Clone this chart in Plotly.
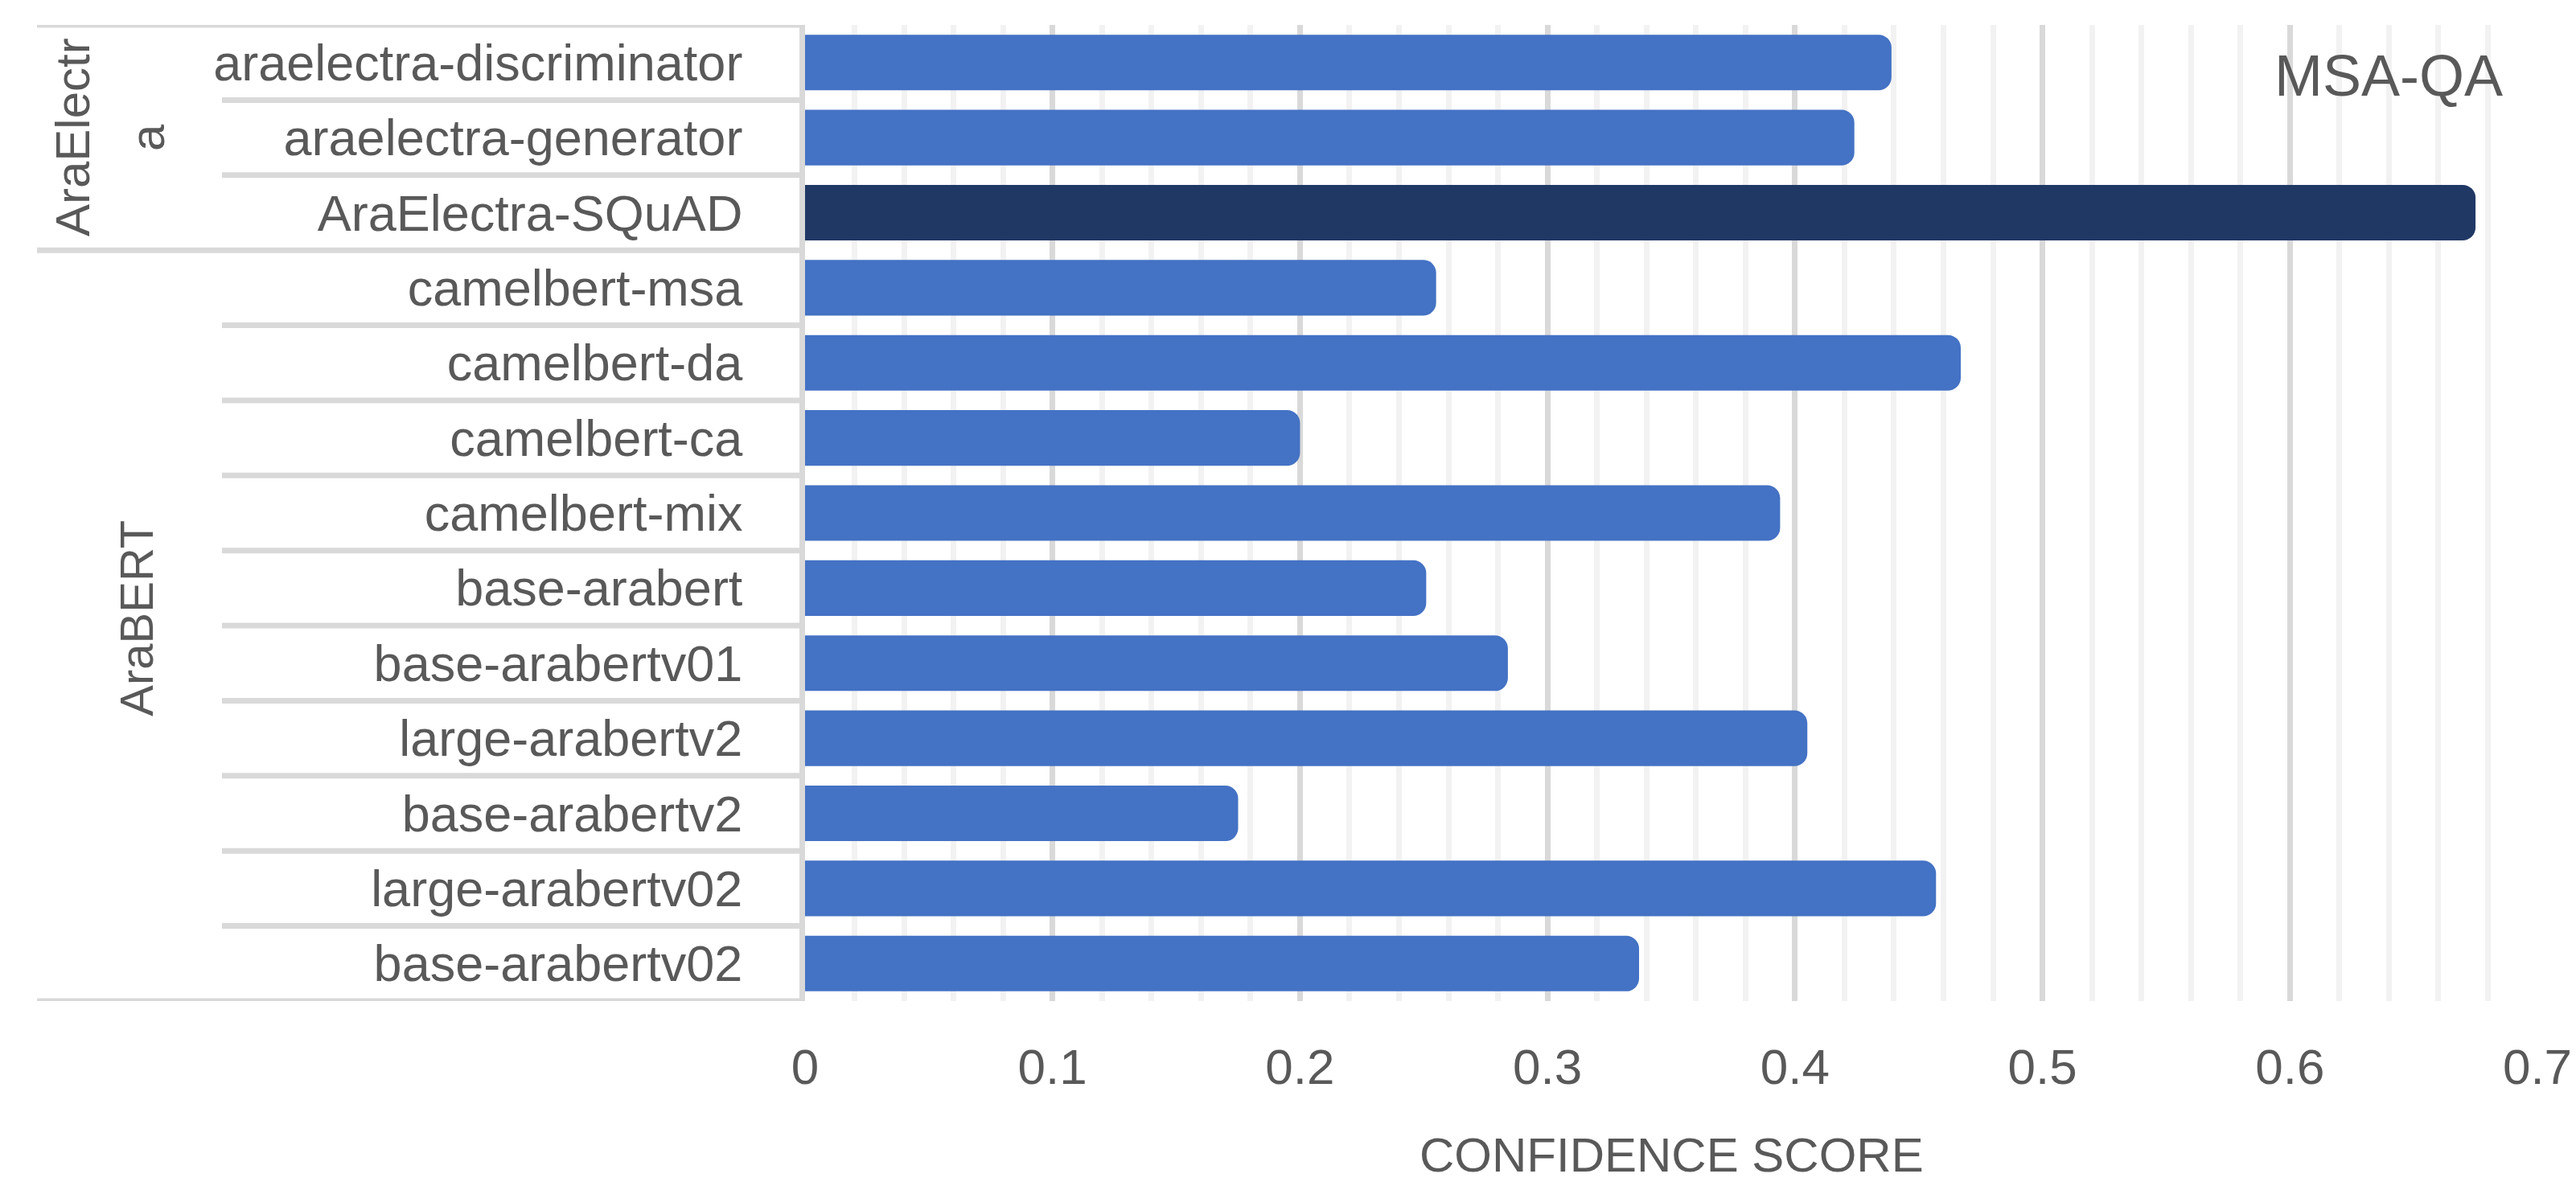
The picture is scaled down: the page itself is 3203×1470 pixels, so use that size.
import plotly.graph_objects as go

# ---- data ----
models = [
    "araelectra-discriminator", "araelectra-generator", "AraElectra-SQuAD",
    "camelbert-msa", "camelbert-da", "camelbert-ca", "camelbert-mix",
    "base-arabert", "base-arabertv01", "large-arabertv2", "base-arabertv2",
    "large-arabertv02", "base-arabertv02",
]
scores = [0.439, 0.424, 0.675, 0.255, 0.467, 0.200, 0.394,
          0.251, 0.284, 0.405, 0.175, 0.457, 0.337]
groups = ["AraElectra"] * 3 + ["AraBERT"] * 10
highlight_model = "AraElectra-SQuAD"
x_ticks = [0, 0.1, 0.2, 0.3, 0.4, 0.5, 0.6, 0.7]
x_tick_labels = ["0", "0.1", "0.2", "0.3", "0.4", "0.5", "0.6", "0.7"]
chart_label = "MSA-QA"
x_title = "CONFIDENCE SCORE"

# ---- style ----
BLUE = "#4472C4"
NAVY = "#203864"
TXT = "#595959"
GRID = "#d9d9d9"
MINOR = "#f2f2f2"
FONT = "Liberation Sans Narrow, Liberation Sans, Arial, sans-serif"
GFONT = "Liberation Sans, Arial, sans-serif"

W, H = 3203, 1470
L, R, T, B = 993, 56, 23, 233
plot_w = W - L - R

def px_to_paper(px):
    return (px - L) / plot_w

colors = [NAVY if m == highlight_model else BLUE for m in models]

fig = go.Figure()
fig.add_trace(go.Bar(
    x=scores, y=models, orientation="h",
    marker=dict(color=colors, cornerradius=16, line=dict(width=0)),
    hoverinfo="x+y",
))

n = len(models)
shapes = []
bounds = [-0.5]
for i in range(1, n):
    if groups[i] != groups[i - 1]:
        bounds.append(i - 0.5)
bounds.append(n - 0.5)
for i in range(n + 1):
    yb = i - 0.5
    x0 = px_to_paper(38) if yb in bounds else px_to_paper(268)
    shapes.append(dict(type="line", xref="paper", yref="y",
                       x0=x0, x1=0, y0=yb, y1=yb,
                       line=dict(color=GRID, width=7), layer="above"))

annotations = [
    dict(text=chart_label, xref="paper", yref="paper",
         x=px_to_paper(2962), y=1 - (86 - T) / (H - T - B),
         xanchor="center", yanchor="middle", showarrow=False,
         font=dict(family=FONT, size=72, color=TXT)),
    dict(text=x_title, xref="paper", yref="paper",
         x=0.5, y=-(1428 - (H - B)) / (H - T - B),
         xanchor="center", yanchor="middle", showarrow=False,
         font=dict(family=FONT, size=60, color=TXT)),
]
ge_center = (bounds[0] + bounds[1]) / 2
gb_center = (bounds[1] + bounds[2]) / 2
annotations += [
    dict(text="AraElectr", xref="paper", yref="y", x=px_to_paper(82), y=ge_center,
         textangle=-90, showarrow=False, xanchor="center", yanchor="middle",
         font=dict(family=GFONT, size=60, color=TXT)),
    dict(text="a", xref="paper", yref="y", x=px_to_paper(175), y=ge_center,
         textangle=-90, showarrow=False, xanchor="center", yanchor="middle",
         font=dict(family=GFONT, size=60, color=TXT)),
    dict(text="AraBERT", xref="paper", yref="y", x=px_to_paper(162), y=gb_center - 0.1,
         textangle=-90, showarrow=False, xanchor="center", yanchor="middle",
         font=dict(family=GFONT, size=58, color=TXT)),
]

fig.update_layout(
    width=W, height=H,
    margin=dict(l=L, r=R, t=T, b=B, autoexpand=False),
    paper_bgcolor="white", plot_bgcolor="white",
    bargap=0.26, showlegend=False,
    shapes=shapes, annotations=annotations,
    font=dict(family=FONT, color=TXT, size=62),
    xaxis=dict(
        range=[0, 0.7], tickvals=x_ticks, ticktext=x_tick_labels,
        showgrid=True, gridcolor=GRID, gridwidth=7,
        minor=dict(dtick=0.02, showgrid=True, gridcolor=MINOR, gridwidth=7),
        zeroline=False, showline=False, ticks="",
        tickfont=dict(family=FONT, size=62, color=TXT),
        ticklabelstandoff=40,
    ),
    yaxis=dict(
        categoryorder="array", categoryarray=models,
        range=[n - 0.5, -0.5],
        showgrid=False, zeroline=False,
        showline=True, linecolor=GRID, linewidth=7,
        ticks="", tickfont=dict(family=FONT, size=63, color=TXT),
        ticklabelstandoff=58,
    ),
)

fig.write_html("out.html")
